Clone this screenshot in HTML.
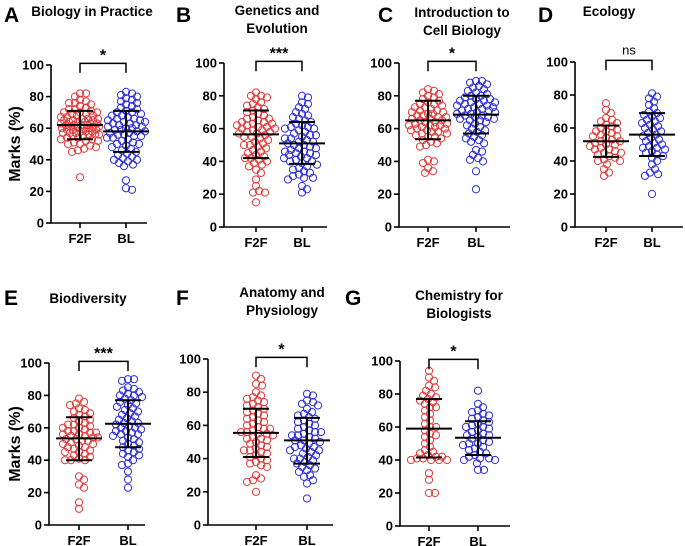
<!DOCTYPE html>
<html><head><meta charset="utf-8"><style>
html,body{margin:0;padding:0;background:#fff;}
svg{display:block;font-family:"Liberation Sans",Arial,sans-serif;}
</style></head><body>
<svg id="fig" width="685" height="546" viewBox="0 0 685 546"></svg>
<script>
const groups = ["F2F","BL"];
const A_F2F=[82,82,80,78,77,76,76,75,74,73,72,72,71,70,70,70,69,69,68,68,67,67,66,66,66,65,65,65,64,64,64,63,63,63,62,62,62,62,61,61,61,60,60,60,60,59,59,59,58,58,58,57,57,57,56,56,56,55,55,54,54,53,53,52,52,51,50,50,49,48,47,46,45,29];
const A_BL=[83,82,81,80,79,78,77,76,75,74,73,72,71,70,70,69,68,68,67,66,66,65,65,64,64,63,63,62,62,61,61,60,60,59,59,58,58,57,57,56,56,55,55,54,54,53,52,51,50,50,49,48,47,46,45,44,43,42,41,40,40,39,38,37,36,27,22,21];
const B_F2F=[82,80,80,79,78,76,75,74,73,72,71,70,69,68,67,66,66,65,64,64,63,63,62,62,61,61,60,60,59,59,58,58,57,57,56,55,55,54,53,52,51,50,50,49,48,47,46,45,44,43,42,42,41,40,39,38,37,35,33,29,25,22,21,21,15];
const B_BL=[80,79,76,75,73,72,70,69,68,67,66,65,64,63,62,61,61,60,60,59,58,57,56,56,55,54,54,53,52,52,51,50,50,49,48,48,47,46,46,45,45,44,44,43,42,42,41,40,40,39,38,37,36,35,34,33,32,31,30,30,29,25,23,21];
const C_F2F=[84,83,82,81,80,79,78,77,76,75,75,74,73,73,72,71,71,70,70,69,69,68,68,67,67,66,66,65,65,64,64,63,63,62,62,62,61,61,60,60,59,59,58,58,57,57,56,55,55,54,53,52,51,50,49,41,40,39,36,34,33];
const C_BL=[89,89,88,87,86,85,84,83,82,81,80,80,79,78,78,77,77,76,76,75,75,74,74,73,73,72,72,71,71,70,70,69,69,68,68,67,67,66,66,65,65,64,63,62,61,60,59,58,57,56,55,54,53,52,51,47,46,44,42,41,40,34,23];
const D_F2F=[75,71,69,66,65,64,63,62,61,60,59,58,58,57,56,55,55,54,53,52,52,51,50,50,49,48,47,47,46,45,45,44,43,42,41,40,40,38,35,33,31];
const D_BL=[81,79,78,76,74,72,70,69,68,67,66,65,64,63,62,61,60,59,58,57,56,55,54,53,52,51,50,49,48,48,47,46,45,44,43,42,40,38,35,33,32,31,20];
const E_F2F=[78,76,75,74,72,71,70,69,68,67,66,65,64,63,62,62,61,60,60,59,58,58,57,57,56,56,55,55,54,54,53,53,52,52,51,50,50,49,48,48,47,46,45,45,44,43,42,41,40,40,40,30,28,25,23,14,10];
const E_BL=[90,90,89,85,84,83,82,81,80,80,79,78,77,76,75,74,73,72,71,70,69,68,67,66,65,64,63,63,62,61,60,60,59,58,58,57,56,56,55,54,53,52,51,50,49,48,47,46,45,44,43,42,40,38,37,33,28,23];
const F_F2F=[90,88,85,84,80,78,77,76,75,74,73,72,71,70,69,68,67,66,65,64,63,62,61,60,59,58,58,57,56,56,55,55,54,53,52,52,51,50,49,48,47,46,45,45,44,43,42,41,40,39,38,37,36,35,30,28,27,26,20];
const F_BL=[79,78,75,74,73,72,70,68,67,66,65,64,63,62,61,60,59,58,57,56,56,55,54,54,53,52,51,51,50,49,48,47,47,46,45,45,44,43,42,41,40,40,39,38,37,36,35,34,33,32,30,29,27,25,16];
const G_F2F=[94,90,88,85,84,82,80,79,78,77,76,75,74,72,72,70,68,66,64,62,60,60,58,56,55,54,52,50,48,46,45,44,43,42,42,41,41,40,40,40,40,32,28,20,20];
const G_BL=[82,74,72,70,69,68,67,66,65,64,63,62,61,60,60,59,58,57,56,55,55,54,53,52,51,50,50,49,48,47,46,45,44,43,42,41,41,40,40,38,34,34];
const means=[[62,58],[56.5,51],[65,68.5],[52,56],[53.5,62.5],[55.5,51],[59,53.5]];
const sdLow=[[53,45],[42,38.5],[53.5,57],[42.5,43],[40,48],[41,37],[41.5,43]];
const sdHigh=[[71,71],[71,64],[77,80],[61.5,69],[66.5,77],[70,64.5],[77,63.5]];
const sigLabels=["*","***","*","ns","***","*","*"];
const yTicks=[0,20,40,60,80,100];

const svg=document.getElementById('fig');
const NS="http://www.w3.org/2000/svg";
function mk(tag,attrs,parent){const e=document.createElementNS(NS,tag);for(const k in attrs)e.setAttribute(k,attrs[k]);(parent||svg).appendChild(e);return e;}

const panels=[
 {id:"a",letter:"A",lx:4,ly:22,title:["Biology in Practice"],tx:92,ty:16,ax:51,xe:147,y100:65,y0:223,c:[80,126],data:[A_F2F,A_BL],ylabel:true},
 {id:"b",letter:"B",lx:176,ly:22,title:["Genetics and","Evolution"],tx:277,ty:15,ax:224,xe:327,y100:63,y0:227,c:[256,302],data:[B_F2F,B_BL]},
 {id:"c",letter:"C",lx:378,ly:22,title:["Introduction to","Cell Biology"],tx:462,ty:17,ax:399,xe:510,y100:63,y0:227,c:[428,476],data:[C_F2F,C_BL]},
 {id:"d",letter:"D",lx:538,ly:22,title:["Ecology"],tx:609,ty:16,ax:575,xe:683,y100:62,y0:227,c:[606,652],data:[D_F2F,D_BL]},
 {id:"e",letter:"E",lx:4,ly:305,title:["Biodiversity"],tx:88,ty:303,ax:49,xe:145,y100:363,y0:525,c:[79,128],data:[E_F2F,E_BL],ylabel:true},
 {id:"f",letter:"F",lx:176,ly:305,title:["Anatomy and","Physiology"],tx:282,ty:297,ax:208,xe:333,y100:359,y0:525,c:[256,307],data:[F_F2F,F_BL]},
 {id:"g",letter:"G",lx:345,ly:305,title:["Chemistry for","Biologists"],tx:459,ty:300,ax:400,xe:510,y100:361,y0:526,c:[429,478],data:[G_F2F,G_BL]}
];
const colors=["#e03a3a","#2f2fd8"];
const R=3.6;
const MAXOFF=19;

panels.forEach((p,pi)=>{
  const g=mk('g',{});
  
  
  const y=v=>p.y0-(v/100)*(p.y0-p.y100);
  const L=mk('text',{x:p.lx,y:p.ly,'font-size':21,'font-weight':'bold',fill:'#000'},g);L.textContent=p.letter;
  
  p.title.forEach((t,i)=>{const T=mk('text',{x:p.tx,y:p.ty+i*18,'font-size':13.5,'font-weight':'bold','text-anchor':'middle',fill:'#000'},g);T.textContent=t;
    });
  const ax=mk('path',{d:`M${p.ax},${p.y100}V${p.y0}H${p.xe}`,stroke:'#000','stroke-width':1.6,fill:'none'},g);
  
  yTicks.forEach(t=>{
    mk('line',{x1:p.ax-5,x2:p.ax,y1:y(t),y2:y(t),stroke:'#000','stroke-width':1.6},g);
    const tl=mk('text',{x:p.ax-7,y:y(t)+4.5,'font-size':13,'font-weight':'bold','text-anchor':'end'},g);tl.textContent=t;
    
  });
  groups.forEach((gn,gi)=>{
    mk('line',{x1:p.c[gi],x2:p.c[gi],y1:p.y0,y2:p.y0+5,stroke:'#000','stroke-width':1.6},g);
    const xl=mk('text',{x:p.c[gi],y:p.y0+20,'font-size':13,'font-weight':'bold','text-anchor':'middle'},g);xl.textContent=gn;
    
  });
  if(p.ylabel){const yl=mk('text',{transform:`translate(20,${(p.y0+p.y100)/2}) rotate(-90)`,'font-size':16,'font-weight':'bold','text-anchor':'middle'},g);yl.textContent="Marks (%)";
    }
  p.data.forEach((vals,gi)=>{
    const placed=[];
    const sorted=vals.slice().sort((a,b)=>b-a);
    sorted.forEach(v=>{
      const py=y(v);let best=0,bestD=-1;
      for(let k=0;k<=2*MAXOFF;k++){
        const o=(k%2?1:-1)*Math.ceil(k/2);
        let md=1e9;
        placed.forEach(q=>{const dx=q[0]-o,dy=q[1]-py;const d=dx*dx+dy*dy;if(d<md)md=d;});
        if(md>=(2*R*0.78)**2){best=o;bestD=md;break;}
        if(md>bestD){bestD=md;best=o;}
      }
      placed.push([best,py]);
      const c=mk('circle',{cx:p.c[gi]+best,cy:py,r:R,fill:'none',stroke:colors[gi],'stroke-width':1},g);
      
      
    });
    const cx=p.c[gi];
    const e=mk('path',{d:`M${cx},${y(sdLow[pi][gi])}V${y(sdHigh[pi][gi])}M${cx-13},${y(sdLow[pi][gi])}h26M${cx-13},${y(sdHigh[pi][gi])}h26M${cx-23},${y(means[pi][gi])}h46`,stroke:'#000','stroke-width':2,fill:'none'},g);
    
  });
  const by=y(101),bt=y(95);
  const br=mk('path',{d:`M${p.c[0]},${bt}V${by}H${p.c[1]}V${bt}`,stroke:'#000','stroke-width':1.5,fill:'none'},g);
  
  const s=mk('text',{x:(p.c[0]+p.c[1])/2,y:by-(sigLabels[pi]==='ns'?6:3),'font-size':sigLabels[pi]==='ns'?13:16,'font-weight':sigLabels[pi]==='ns'?'normal':'bold','text-anchor':'middle'},g);
  s.textContent=sigLabels[pi];
  
});
</script>
</body></html>
